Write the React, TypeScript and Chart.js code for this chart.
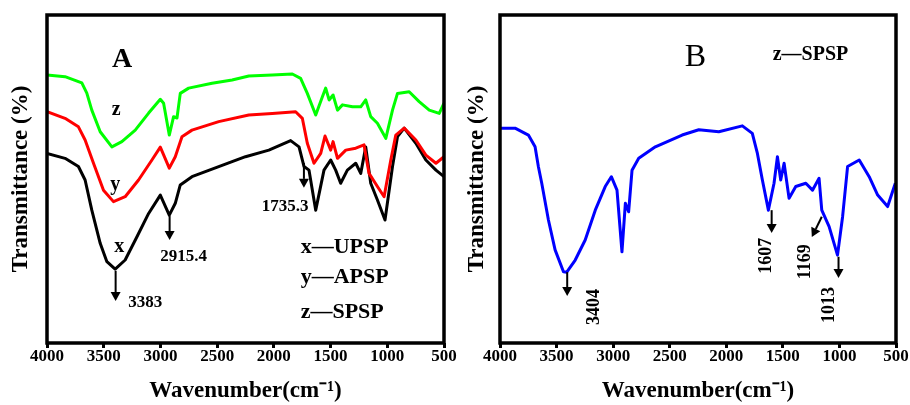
import React, { useEffect, useRef } from "react";
import { Chart, registerables } from "chart.js";

Chart.register(...registerables);

const FONT = "'Liberation Serif', 'Times New Roman', serif";

// ---------- Panel A data (wavenumber cm-1, transmittance %) ----------
const Z_A_WN = [4000, 3841, 3693, 3649, 3605, 3531, 3428, 3340, 3222, 3104, 3001, 2972, 2922, 2884, 2854, 2825, 2751, 2545, 2368, 2221, 2014, 1837, 1764, 1705, 1631, 1572, 1543, 1513, 1478, 1439, 1395, 1307, 1234, 1190, 1146, 1087, 1013, 954, 910, 807, 719, 630, 542, 500];
const Z_A_T = [81.7, 81.2, 79.3, 76.2, 71.0, 64.4, 59.8, 61.4, 64.9, 70.1, 74.3, 73.1, 63.4, 69.0, 68.6, 76.1, 77.7, 79.2, 80.2, 81.4, 81.7, 82.0, 80.7, 76.1, 69.5, 75.1, 77.7, 74.1, 75.6, 71.0, 72.6, 72.0, 72.0, 74.1, 69.0, 67.0, 62.4, 71.0, 76.1, 76.6, 73.6, 71.0, 70.0, 73.1];

const Y_A_WN = [4000, 3841, 3723, 3664, 3590, 3502, 3414, 3311, 3193, 3075, 3001, 2922, 2869, 2810, 2722, 2486, 2221, 2014, 1808, 1749, 1705, 1646, 1587, 1549, 1499, 1478, 1439, 1366, 1278, 1205, 1161, 1087, 1028, 969, 925, 851, 748, 660, 571, 500];
const Y_A_T = [70.5, 68.5, 65.9, 61.9, 54.8, 46.6, 43.1, 44.6, 49.7, 55.8, 59.7, 53.3, 56.8, 62.9, 64.9, 67.5, 69.5, 70.0, 70.5, 68.5, 60.9, 54.8, 57.8, 63.1, 58.8, 61.4, 56.3, 58.8, 59.4, 60.4, 51.7, 47.7, 44.6, 55.8, 63.4, 65.5, 61.9, 57.3, 54.8, 56.8];

const X_A_WN = [4000, 3841, 3723, 3664, 3605, 3531, 3472, 3399, 3311, 3207, 3104, 3001, 2922, 2869, 2825, 2722, 2486, 2250, 2044, 1852, 1778, 1734, 1690, 1631, 1558, 1499, 1455, 1411, 1352, 1278, 1234, 1190, 1146, 1087, 1020, 954, 910, 851, 748, 660, 571, 500];
const X_A_T = [57.8, 56.3, 53.8, 49.7, 40.5, 30.4, 24.8, 22.5, 25.3, 32.4, 39.5, 45.1, 39.0, 42.6, 48.2, 50.7, 53.8, 56.8, 58.8, 61.7, 59.8, 53.8, 52.7, 40.5, 52.7, 55.8, 52.7, 48.7, 52.7, 54.8, 51.7, 59.8, 48.7, 43.6, 37.5, 53.8, 62.9, 65.5, 60.9, 55.8, 52.7, 50.7];

// ---------- Panel B data ----------
const Z_B_WN = [4000, 3867, 3749, 3690, 3661, 3631, 3572, 3513, 3439, 3410, 3335, 3247, 3158, 3070, 3016, 2966, 2922, 2892, 2863, 2833, 2774, 2627, 2390, 2243, 2066, 1858, 1770, 1725, 1681, 1628, 1578, 1548, 1519, 1489, 1445, 1386, 1297, 1238, 1180, 1156, 1091, 1017, 972, 928, 825, 737, 662, 574, 506];
const Z_B_T = [65.5, 65.5, 63.4, 59.8, 53.8, 48.7, 37.5, 28.4, 21.7, 21.6, 25.3, 31.4, 40.5, 47.7, 50.7, 46.6, 27.8, 42.6, 40.0, 52.7, 56.3, 59.8, 63.4, 65.0, 64.4, 66.2, 63.9, 57.8, 49.7, 40.5, 48.7, 56.8, 49.7, 54.8, 44.1, 47.7, 48.7, 46.6, 50.2, 40.5, 35.5, 26.8, 38.5, 53.8, 55.8, 50.7, 45.1, 41.6, 48.7];

// ---------- Axis ----------
const X_TICKS = [4000, 3500, 3000, 2500, 2000, 1500, 1000, 500];
const X_TITLE = "Wavenumber(cm\u207B\u00B9)";
const Y_TITLE = "Transmittance (%)";

// ---------- Annotations (data coordinates) ----------
const A_TEXTS = [
  { text: "A", x: 3337, y: 86.3, font: "bold 28px", align: "center" },
  { text: "z", x: 3390, y: 71.0, font: "bold 20px", align: "center" },
  { text: "y", x: 3399, y: 48.2, font: "bold 20px", align: "center" },
  { text: "x", x: 3364, y: 29.3, font: "bold 20px", align: "center" },
  { text: "3383", x: 3134, y: 12.2, font: "bold 17px", align: "center" },
  { text: "2915.4", x: 2795, y: 26.3, font: "bold 17px", align: "center" },
  { text: "1735.3", x: 1901, y: 41.6, font: "bold 17px", align: "center" },
  { text: "x\u2014UPSP", x: 1764, y: 29.3, font: "bold 22px", align: "left" },
  { text: "y\u2014APSP", x: 1764, y: 20.1, font: "bold 22px", align: "left" },
  { text: "z\u2014SPSP", x: 1764, y: 9.5, font: "bold 22px", align: "left" },
];
const A_ARROWS = [
  { x1: 3395, y1: 22.0, x2: 3395, y2: 12.8 },
  { x1: 2919, y1: 38.7, x2: 2919, y2: 31.4 },
  { x1: 1735, y1: 54.9, x2: 1735, y2: 47.3 },
];
const B_TEXTS = [
  { text: "B", x: 2272, y: 86.9, font: "32px", align: "center" },
  { text: "z\u2014SPSP", x: 1590, y: 87.8, font: "bold 20px", align: "left" },
  { text: "3404", x: 3167, y: 11.0, font: "bold 18px", align: "center", rot: true },
  { text: "1607", x: 1645, y: 26.6, font: "bold 18px", align: "center", rot: true },
  { text: "1169", x: 1302, y: 24.8, font: "bold 18px", align: "center", rot: true },
  { text: "1013", x: 1091, y: 11.6, font: "bold 18px", align: "center", rot: true },
];
const B_ARROWS = [
  { x1: 3406, y1: 21.6, x2: 3406, y2: 14.3 },
  { x1: 1599, y1: 40.5, x2: 1599, y2: 33.5 },
  { x1: 1156, y1: 38.5, x2: 1244, y2: 32.3 },
  { x1: 1008, y1: 26.3, x2: 1008, y2: 19.8 },
];

const pts = (xs: number[], ys: number[]) => xs.map((x, i) => ({ x, y: ys[i] }));

const framePlugin = {
  id: "frame",
  afterDraw(chart: any) {
    const { ctx, chartArea: a } = chart;
    ctx.save();
    ctx.strokeStyle = "#000";
    ctx.lineWidth = 3.5;
    ctx.strokeRect(a.left, a.top, a.right - a.left, a.bottom - a.top);
    ctx.restore();
  },
};

const annoPlugin = {
  id: "anno",
  afterDatasetsDraw(chart: any, _args: any, opts: any) {
    const { ctx } = chart;
    const xs = chart.scales.x;
    const ys = chart.scales.y;
    ctx.save();
    ctx.fillStyle = "#000";
    ctx.strokeStyle = "#000";
    for (const a of opts.arrows || []) {
      const x1 = xs.getPixelForValue(a.x1), y1 = ys.getPixelForValue(a.y1);
      const x2 = xs.getPixelForValue(a.x2), y2 = ys.getPixelForValue(a.y2);
      const ang = Math.atan2(y2 - y1, x2 - x1);
      const hl = 9, hw = 5;
      const bx = x2 - hl * Math.cos(ang), by = y2 - hl * Math.sin(ang);
      ctx.lineWidth = 2;
      ctx.beginPath();
      ctx.moveTo(x1, y1);
      ctx.lineTo(bx, by);
      ctx.stroke();
      ctx.beginPath();
      ctx.moveTo(x2, y2);
      ctx.lineTo(bx + hw * Math.sin(ang), by - hw * Math.cos(ang));
      ctx.lineTo(bx - hw * Math.sin(ang), by + hw * Math.cos(ang));
      ctx.closePath();
      ctx.fill();
    }
    for (const t of opts.texts || []) {
      const x = xs.getPixelForValue(t.x), y = ys.getPixelForValue(t.y);
      ctx.font = `${t.font} ${FONT}`;
      ctx.textAlign = t.align;
      ctx.textBaseline = "middle";
      if (t.rot) {
        ctx.save();
        ctx.translate(x, y);
        ctx.rotate(-Math.PI / 2);
        ctx.fillText(t.text, 0, 0);
        ctx.restore();
      } else {
        ctx.fillText(t.text, x, y);
      }
    }
    ctx.restore();
  },
};

function makeConfig(datasets: any[], yWidth: number, yTitlePad: number, pad: any, texts: any[], arrows: any[]) {
  return {
    type: "line",
    data: { datasets },
    options: {
      responsive: false,
      animation: false,
      events: [],
      layout: { padding: pad },
      plugins: {
        legend: { display: false },
        tooltip: { enabled: false },
        anno: { texts, arrows },
      },
      elements: { point: { radius: 0 }, line: { tension: 0, borderWidth: 3, borderJoinStyle: "round" } },
      scales: {
        x: {
          type: "linear",
          reverse: true,
          min: 500,
          max: 4000,
          afterBuildTicks: (s: any) => {
            s.ticks = X_TICKS.map((v) => ({ value: v }));
          },
          afterFit: (s: any) => {
            s.height = 62;
          },
          ticks: {
            color: "#000",
            font: { family: FONT, size: 17, weight: "bold" },
            padding: -2,
            maxRotation: 0,
            autoSkip: false,
            callback: (v: any) => String(v),
          },
          grid: { display: true, drawOnChartArea: false, drawTicks: true, tickLength: 5, tickWidth: 3, tickColor: "#000" },
          border: { display: false },
          title: {
            display: true,
            text: X_TITLE,
            color: "#000",
            font: { family: FONT, size: 23, weight: "bold" },
            padding: { top: 0, bottom: 0 },
          },
        },
        y: {
          type: "linear",
          min: 0,
          max: 100,
          afterFit: (s: any) => {
            s.width = yWidth;
          },
          ticks: { display: false },
          grid: { display: false },
          border: { display: false },
          title: {
            display: true,
            text: Y_TITLE,
            color: "#000",
            font: { family: FONT, size: 23, weight: "bold" },
            padding: { top: yTitlePad, bottom: 0 },
          },
        },
      },
    },
    plugins: [framePlugin, annoPlugin],
  };
}

export default function App() {
  const refA = useRef<HTMLCanvasElement>(null);
  const refB = useRef<HTMLCanvasElement>(null);

  useEffect(() => {
    const line = (data: any, color: string) => ({
      data,
      borderColor: color,
      backgroundColor: color,
      fill: false,
      pointRadius: 0,
    });
    const cA = new Chart(
      refA.current as HTMLCanvasElement,
      makeConfig(
        [line(pts(Z_A_WN, Z_A_T), "#00ff00"), line(pts(Y_A_WN, Y_A_T), "#ff0000"), line(pts(X_A_WN, X_A_T), "#000000")],
        47,
        7,
        { left: 0, right: 26, top: 15, bottom: 0 },
        A_TEXTS,
        A_ARROWS
      ) as any
    );
    const cB = new Chart(
      refB.current as HTMLCanvasElement,
      makeConfig(
        [line(pts(Z_B_WN, Z_B_T), "#0000ff")],
        45,
        8,
        { left: 0, right: 14, top: 15, bottom: 0 },
        B_TEXTS,
        B_ARROWS
      ) as any
    );
    return () => {
      cA.destroy();
      cB.destroy();
    };
  }, []);

  return (
    <div style={{ position: "absolute", left: 0, top: 0, width: 910, height: 405, background: "#fff" }}>
      <canvas ref={refA} width={470} height={405} style={{ position: "absolute", left: 0, top: 0, width: 470, height: 405 }} />
      <canvas ref={refB} width={455} height={405} style={{ position: "absolute", left: 455, top: 0, width: 455, height: 405 }} />
    </div>
  );
}
